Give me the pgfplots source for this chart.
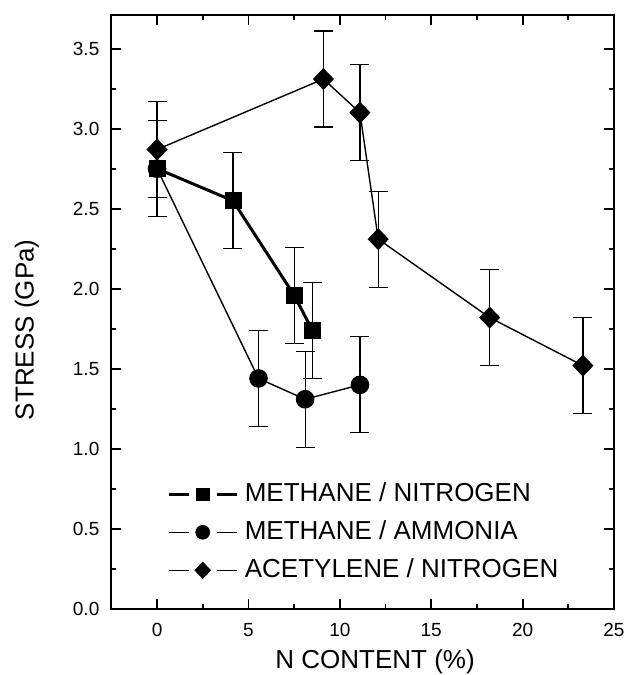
\documentclass[border=0pt]{standalone}
\usepackage{pgfplots}
\pgfplotsset{compat=1.18}
\usepackage{fontspec}
\setmainfont{Liberation Sans}
\begin{document}
\begin{tikzpicture}
\begin{axis}[
  scale only axis, width=251.5pt, height=297pt,
  xmin=-2.52, xmax=25, ymin=0, ymax=3.71,
  xtick={0,5,10,15,20,25}, ytick={0,0.5,1,1.5,2,2.5,3,3.5},
  minor x tick num=1, minor y tick num=1,
  tick align=inside, major tick length=5pt, minor tick length=2.5pt,
  axis line style={line width=1.1pt},
  every tick/.style={black, line width=0.9pt},
  /pgf/number format/assume math mode=true,
  tick label style={font=\fontsize{9.5}{10}\selectfont},
  yticklabel style={xshift=-2.3pt, /pgf/number format/.cd, fixed, fixed zerofill, precision=1},
  xticklabel style={yshift=-3.5pt},
  xlabel={N CONTENT (\%)}, ylabel={STRESS (GPa)},
  label style={font=\fontsize{13}{15}\selectfont, inner sep=0pt},
  x label style={at={(axis description cs:0.525,0)}, yshift=-26.5pt, anchor=center},
  y label style={at={(axis description cs:-0.167,0.47)}, anchor=center},
  legend style={at={(axis description cs:0.111,0.214)}, anchor=north west, draw=none, fill=none,
    inner sep=0pt, font=\fontsize{13}{15}\selectfont, row sep=7pt,
    nodes={inner sep=0pt, text height=9.5pt, text depth=2.5pt}},
  legend cell align=left,
  legend image code/.code={
    \draw[#1, mark=none] (0pt,0pt) -- (10pt,0pt);
    \draw[#1, mark=none] (24pt,0pt) -- (34pt,0pt);
    \draw[#1, every mark/.append style={scale=0.77}] plot coordinates {(17pt,0pt)};
    \path (37.3pt,0pt);
  },
  error bars/error bar style={line width=0.6pt, black},
  error bars/error mark options={rotate=90, mark size=4.75pt, line width=0.6pt, black},
]
\addplot[black, line width=1.5pt, mark=square*, mark size=4pt, mark options={solid, fill=black, line width=0.3pt},
  error bars/.cd, y dir=both, y explicit]
  coordinates {
   (0,2.75) +- (0,0.3)
   (4.15,2.55) +- (0,0.3)
   (7.5,1.96) +- (0,0.3)
   (8.5,1.74) +- (0,0.3)
  };
\addlegendentry{METHANE / NITROGEN}
\addplot[black, line width=0.7pt, mark=*, mark size=4.3pt, mark options={solid, fill=black},
  error bars/.cd, y dir=both, y explicit]
  coordinates {
   (0,2.75) +- (0,0.3)
   (5.55,1.44) +- (0,0.3)
   (8.1,1.31) +- (0,0.3)
   (11.1,1.40) +- (0,0.3)
  };
\addlegendentry{METHANE / AMMONIA}
\addplot[black, line width=0.7pt, mark=diamond*, mark size=5pt, mark options={solid, fill=black, xscale=1.28},
  error bars/.cd, y dir=both, y explicit]
  coordinates {
   (0,2.87) +- (0,0.3)
   (9.1,3.31) +- (0,0.3)
   (11.1,3.10) +- (0,0.3)
   (12.1,2.31) +- (0,0.3)
   (18.2,1.82) +- (0,0.3)
   (23.3,1.52) +- (0,0.3)
  };
\addlegendentry{ACETYLENE / NITROGEN}
\end{axis}
\path (-55.5pt,-33pt) rectangle (258.5pt,304.5pt);
\end{tikzpicture}
\end{document}
